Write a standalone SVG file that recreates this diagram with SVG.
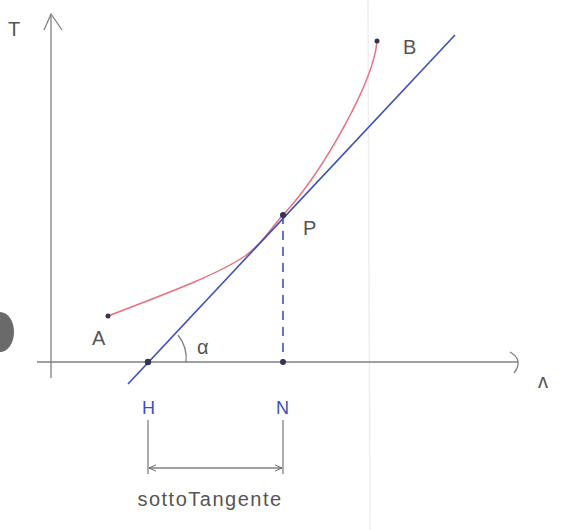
<svg xmlns="http://www.w3.org/2000/svg" width="563" height="530" viewBox="0 0 563 530">
<style>
.ax{stroke:#808080;stroke-width:1.3;fill:none}
.lbl{font-family:"Liberation Sans",Arial,sans-serif;fill:#555;font-size:20px}
.blbl{font-family:"Liberation Sans",Arial,sans-serif;fill:#3b4fb5;font-size:18px}
.blue{stroke:#3d4fb8;stroke-width:1.6;fill:none}
.red{stroke:#e8707c;stroke-width:1.5;fill:none}
.dot{fill:#333355}
</style>
<defs>
<marker id="ah" viewBox="0 0 10 10" refX="9" refY="5" markerWidth="8" markerHeight="8" orient="auto-start-reverse" markerUnits="userSpaceOnUse">
<path d="M0,1 L9,5 L0,9" fill="none" stroke="#666" stroke-width="1.2"/>
</marker>
</defs>
<rect width="563" height="530" fill="#fff"/>
<line x1="368" y1="0" x2="370" y2="530" stroke="#eeeeee" stroke-width="1.5"/>
<path d="M0,312 A14,20 0 0 1 0,352 Z" fill="#6a6a6a"/>
<g id="connectors">
<line class="ax" x1="51" y1="16" x2="51" y2="378"/>
<path class="ax" d="M44,30 L51,14 L62,30"/>
<line class="ax" x1="37" y1="362" x2="518" y2="362"/>
<path class="ax" d="M510,352 Q524,360 514,373"/>
<path class="red" d="M108,316 C165,294 215,276 245,256 C262,244 270,229 283,215 C323,172 374,81 377,41"/>
<line class="blue" x1="128" y1="384" x2="455" y2="35"/>
<line class="blue" x1="283" y1="215" x2="283" y2="362" stroke-dasharray="9,7"/>
<path class="ax" d="M178,335 A38,38 0 0 1 186,363"/>
<line class="ax" x1="148" y1="420" x2="148" y2="474"/>
<line class="ax" x1="283" y1="420" x2="283" y2="474"/>
<line class="ax" x1="149" y1="468" x2="282" y2="468" marker-start="url(#ah)" marker-end="url(#ah)"/>
</g>
<g id="axis-T"><text class="lbl" x="8" y="36">T</text></g>
<g id="axis-s"><text class="lbl" x="538" y="388">ʌ</text></g>
<g id="A"><circle class="dot" cx="108" cy="316" r="2.5"/><text class="lbl" x="92" y="345">A</text></g>
<g id="B"><circle class="dot" cx="377" cy="41" r="2.5"/><text class="lbl" x="403" y="54">B</text></g>
<g id="P"><circle class="dot" cx="283" cy="215" r="3"/><text class="lbl" x="303" y="235">P</text></g>
<g id="H"><circle class="dot" cx="148" cy="362" r="3.2"/><text class="blbl" x="142" y="414">H</text></g>
<g id="N"><circle class="dot" cx="283" cy="362" r="3"/><text class="blbl" x="276" y="414">N</text></g>
<g id="alpha"><text class="lbl" x="197" y="354">α</text></g>
<g id="sottotangente"><text class="lbl" x="210" y="506" text-anchor="middle" font-size="27" letter-spacing="1.5">sottoTangente</text></g>
</svg>
